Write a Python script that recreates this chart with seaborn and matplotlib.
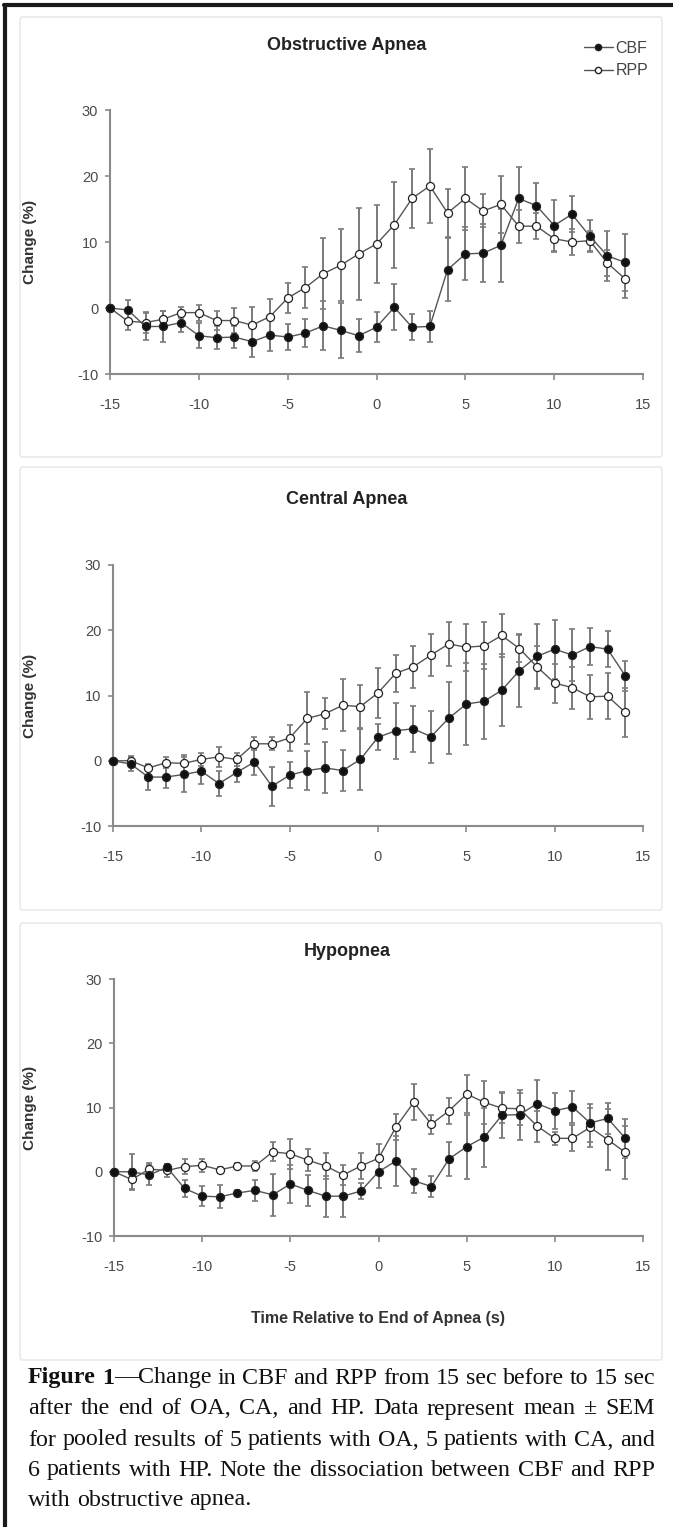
import numpy as np
import matplotlib
matplotlib.use("Agg")
import matplotlib.pyplot as plt
import seaborn as sns
from matplotlib.lines import Line2D
from matplotlib.patches import FancyBboxPatch

# ---------------- data ----------------
time_s = list(range(-15, 15))

oa_cbf = [0, -0.3, -2.8, -2.8, -2.2, -4.2, -4.5, -4.4, -5.1, -4.1, -4.4, -3.8, -2.7, -3.4, -4.2,
          -2.9, 0.1, -2.9, -2.8, 5.8, 8.2, 8.3, 9.5, 16.6, 15.5, 12.5, 14.2, 10.9, 7.9, 6.9]
oa_cbf_err = [0, 1.5, 2, 2.3, 1.5, 1.9, 1.7, 1.7, 2.3, 2.4, 2, 2.1, 3.7, 4.1, 2.5,
              2.3, 3.5, 2, 2.4, 4.8, 4, 4.4, 5.5, 4.7, 3.5, 3.9, 2.7, 2.4, 3.8, 4.3]
oa_rpp = [0, -2.0, -2.2, -1.7, -0.7, -0.7, -1.9, -1.9, -2.6, -1.3, 1.5, 3.1, 5.2, 6.5, 8.2,
          9.7, 12.6, 16.6, 18.5, 14.4, 16.6, 14.7, 15.7, 12.4, 12.4, 10.5, 10.0, 10.2, 6.8, 4.4]
oa_rpp_err = [0, 1.3, 1.6, 1.2, 0.8, 1.2, 1.5, 1.9, 2.7, 2.6, 2.3, 3.1, 5.4, 5.4, 7,
              5.9, 6.5, 4.5, 5.6, 3.7, 4.8, 2.5, 4.3, 2.5, 2, 2, 2, 1.5, 2, 2.9]

ca_cbf = [0, -0.5, -2.5, -2.5, -2.1, -1.6, -3.5, -1.8, -0.2, -3.9, -2.2, -1.5, -1.1, -1.5, 0.2,
          3.6, 4.6, 4.9, 3.7, 6.5, 8.7, 9.1, 10.8, 13.8, 16.0, 17.1, 16.2, 17.5, 17.1, 13.0]
ca_cbf_err = [0, 1, 2, 1.7, 2.7, 2, 1.9, 1.5, 2, 3, 2, 3, 3.9, 3.2, 4.7,
              2, 4.3, 3.5, 4, 5.5, 6.3, 5.8, 5.5, 5.6, 5, 4.5, 4, 2.9, 2.8, 2.3]
ca_rpp = [0, 0, -1.1, -0.3, -0.4, 0.2, 0.6, 0.2, 2.6, 2.6, 3.5, 6.5, 7.2, 8.5, 8.3,
          10.4, 13.4, 14.4, 16.2, 17.9, 17.4, 17.6, 19.2, 17.2, 14.4, 11.9, 11.2, 9.8, 9.9, 7.4]
ca_rpp_err = [0, 0.7, 0.5, 0.8, 1.3, 1, 1.5, 1, 1, 1, 2, 4, 2.4, 4, 3.3,
              3.8, 2.8, 3.2, 3.2, 3.4, 3.6, 3.6, 3.3, 2, 3.2, 3, 3.2, 3.4, 3.5, 3.7]

hp_cbf = [0, 0, -0.5, 0.7, -2.6, -3.8, -3.9, -3.3, -2.9, -3.6, -1.9, -2.9, -3.8, -3.8, -3.0,
          0, 1.7, -1.4, -2.3, 2.0, 3.9, 5.4, 8.8, 8.9, 10.6, 9.5, 10.1, 7.6, 8.3, 5.2]
hp_cbf_err = [0, 2.7, 1.5, 0.5, 1.3, 1.6, 1.8, 0.5, 1.6, 3.3, 3, 2.4, 3.2, 3.2, 1.2,
              2.6, 3.9, 1.9, 1.7, 2.7, 5, 4.6, 3.6, 3.9, 3.7, 2.8, 2.5, 3, 2.4, 3]
hp_rpp = [0, -1.2, 0.4, 0.2, 0.8, 1.0, 0.3, 0.9, 0.9, 3.1, 2.8, 1.8, 0.9, -0.5, 0.9,
          2.1, 7.0, 10.8, 7.4, 9.5, 12.1, 10.8, 9.9, 9.8, 7.1, 5.2, 5.2, 6.9, 5.0, 3.0]
hp_rpp_err = [0, 1.6, 1, 1, 1.2, 1, 0.5, 0.5, 0.8, 1.5, 2.3, 1.7, 2, 1.5, 2,
              2.2, 2, 2.8, 1.5, 2, 3, 3.3, 2.3, 2.5, 2.4, 1, 2, 3, 4.8, 4.1]

panel_titles = ["Obstructive Apnea", "Central Apnea", "Hypopnea"]
series_names = ["CBF", "RPP"]
x_ticks = [-15, -10, -5, 0, 5, 10, 15]
y_ticks = [-10, 0, 10, 20, 30]
y_label = "Change (%)"
x_label = "Time Relative to End of Apnea (s)"

caption_lines = [
    [[("Figure", "bold")], [("1", "bold"), ("\u2014Change", "normal")], "in", "CBF", "and", "RPP",
     "from", "15", "sec", "before", "to", "15", "sec"],
    "after the end of OA, CA, and HP. Data represent mean \u00b1 SEM".split(" "),
    "for pooled results of 5 patients with OA, 5 patients with CA, and".split(" "),
    "6 patients with HP. Note the dissociation between CBF and RPP".split(" "),
    "with obstructive apnea.".split(" "),
]

# ---------------- figure ----------------
sns.set_theme(style="white")
plt.rcParams['font.family'] = ['Liberation Sans', 'DejaVu Sans']
plt.rcParams['axes.unicode_minus'] = False

W, H = 673, 1527
fig = plt.figure(figsize=(W / 100, H / 100), dpi=100)


def fx(px):
    return px / W


def fy(py):
    return 1 - py / H


# outer page border (left and top)
fig.add_artist(Line2D([fx(5), fx(5)], [fy(1527), fy(5)], color="#1a1a1a", lw=3, transform=fig.transFigure))
fig.add_artist(Line2D([fx(4), fx(673)], [fy(5), fy(5)], color="#1a1a1a", lw=3, transform=fig.transFigure))

# panel boxes
for top, bot in [(17, 457), (467, 910), (923, 1360)]:
    box = FancyBboxPatch((fx(20), fy(bot)), fx(662) - fx(20), fy(top) - fy(bot),
                         boxstyle="round,pad=0,rounding_size=0.003", transform=fig.transFigure,
                         facecolor="none", edgecolor="#e6e6e6", lw=1.0)
    fig.add_artist(box)

# axes geometry (pixels): left, right, top, bottom
geoms = [(110, 643, 110, 374), (113, 643, 565, 826), (114, 643, 979, 1236)]
title_y = [45, 500, 951]
data = [
    (oa_cbf, oa_cbf_err, oa_rpp, oa_rpp_err),
    (ca_cbf, ca_cbf_err, ca_rpp, ca_rpp_err),
    (hp_cbf, hp_cbf_err, hp_rpp, hp_rpp_err),
]

line_col = "#555555"
err_col = "#7a7a7a"
axis_col = "#8a8a8a"
tick_col = "#4a4a4a"

axes = []
for i, ((l, r, t, b), (cbf, cbf_e, rpp, rpp_e)) in enumerate(zip(geoms, data)):
    ax = fig.add_axes([fx(l), fy(b), fx(r) - fx(l), fy(t) - fy(b)])
    ax.set_facecolor("none")
    axes.append(ax)
    for vals, errs in [(rpp, rpp_e), (cbf, cbf_e)]:
        ax.errorbar(time_s, vals, yerr=errs, fmt="none", ecolor=err_col, elinewidth=1.4,
                    capsize=2.3, capthick=1.2, zorder=2, clip_on=False)
    for vals, fc in [(rpp, "white"), (cbf, "#111111")]:
        sns.lineplot(x=time_s, y=vals, ax=ax, color=line_col, linewidth=1.0,
                     marker="o", markersize=5.8, markerfacecolor=fc,
                     markeredgecolor="#222222", markeredgewidth=0.9,
                     legend=False, zorder=3, clip_on=False)
    ax.set_xlim(-15, 15)
    ax.set_ylim(-10, 30)
    ax.set_xticks(x_ticks)
    ax.set_yticks(y_ticks)
    for s in ["top", "right"]:
        ax.spines[s].set_visible(False)
    for s in ["left", "bottom"]:
        ax.spines[s].set_color(axis_col)
        ax.spines[s].set_linewidth(1.5)
    ax.tick_params(axis="x", direction="out", length=4, width=1.2, color=axis_col,
                   labelsize=10.5, labelcolor=tick_col, pad=13, bottom=True)
    ax.tick_params(axis="y", direction="out", length=3.5, width=1.2, color=axis_col,
                   labelsize=10.5, labelcolor=tick_col, pad=5, left=True)
    ax.set_xlabel("")
    ax.set_ylabel(y_label, fontsize=11, fontweight="bold", color="#333333")
    ax.yaxis.set_label_coords(-(l - 37) / (r - l), 0.5)
    ax.grid(False)
    fig.text(fx(347), fy(title_y[i]), panel_titles[i], ha="center", va="center",
             fontsize=13, fontweight="bold", color="#222222")

# legend
handles = [
    Line2D([], [], color=line_col, lw=1.0, marker="o", markersize=4.5,
           markerfacecolor="#111111", markeredgecolor="#222222"),
    Line2D([], [], color=line_col, lw=1.0, marker="o", markersize=4.5,
           markerfacecolor="white", markeredgecolor="#222222"),
]
leg = fig.legend(handles, series_names, loc="upper right",
                 bbox_to_anchor=(fx(656), fy(33)), frameon=False, fontsize=11.5,
                 handlelength=1.8, handletextpad=0.15, labelspacing=0.45, borderpad=0)
for txt in leg.get_texts():
    txt.set_color("#444444")

# x label
fig.text(fx(378), fy(1318), x_label, ha="center", va="center", fontsize=11.5,
         fontweight="bold", color="#333333")

# caption (justified)
fig.canvas.draw()
renderer = fig.canvas.get_renderer()
cap_left, cap_right = 28, 655
cap_y = [1378, 1409, 1440, 1470, 1500]


def measure(segs, size):
    widths = []
    for s, w in segs:
        t = fig.text(0, 0, s, fontweight=w, family="Liberation Serif", fontsize=size)
        widths.append(t.get_window_extent(renderer).width)
        t.remove()
    return widths


def space_width(size):
    a = fig.text(0, 0, "a a", family="Liberation Serif", fontsize=size)
    b = fig.text(0, 0, "aa", family="Liberation Serif", fontsize=size)
    w = a.get_window_extent(renderer).width - b.get_window_extent(renderer).width
    a.remove()
    b.remove()
    return w


norm_lines = [[w if isinstance(w, list) else [(w, "normal")] for w in words] for words in caption_lines]

# pick a size so that the widest full line fits with ordinary spaces
base = 13.0
sw0 = space_width(base)
nat = []
for words in norm_lines[:-1]:
    tot = sum(sum(measure(w, base)) for w in words) + sw0 * (len(words) - 1)
    nat.append(tot)
cap_size = base * (cap_right - cap_left) / max(nat) * 0.995
sw = space_width(cap_size)

for li, words in enumerate(norm_lines):
    wlist = [measure(w, cap_size) for w in words]
    totals = [sum(ws) for ws in wlist]
    last = li == len(norm_lines) - 1
    if last:
        gap = sw
    else:
        gap = (cap_right - cap_left - sum(totals)) / (len(words) - 1)
    x = cap_left
    for segs, ws in zip(words, wlist):
        xx = x
        for (s, w), swd in zip(segs, ws):
            fig.text(fx(xx), fy(cap_y[li]), s, fontweight=w, ha="left", va="center",
                     family="Liberation Serif", fontsize=cap_size, color="#111111")
            xx += swd
        x += sum(ws) + gap

fig.savefig("out.png", dpi=100)
